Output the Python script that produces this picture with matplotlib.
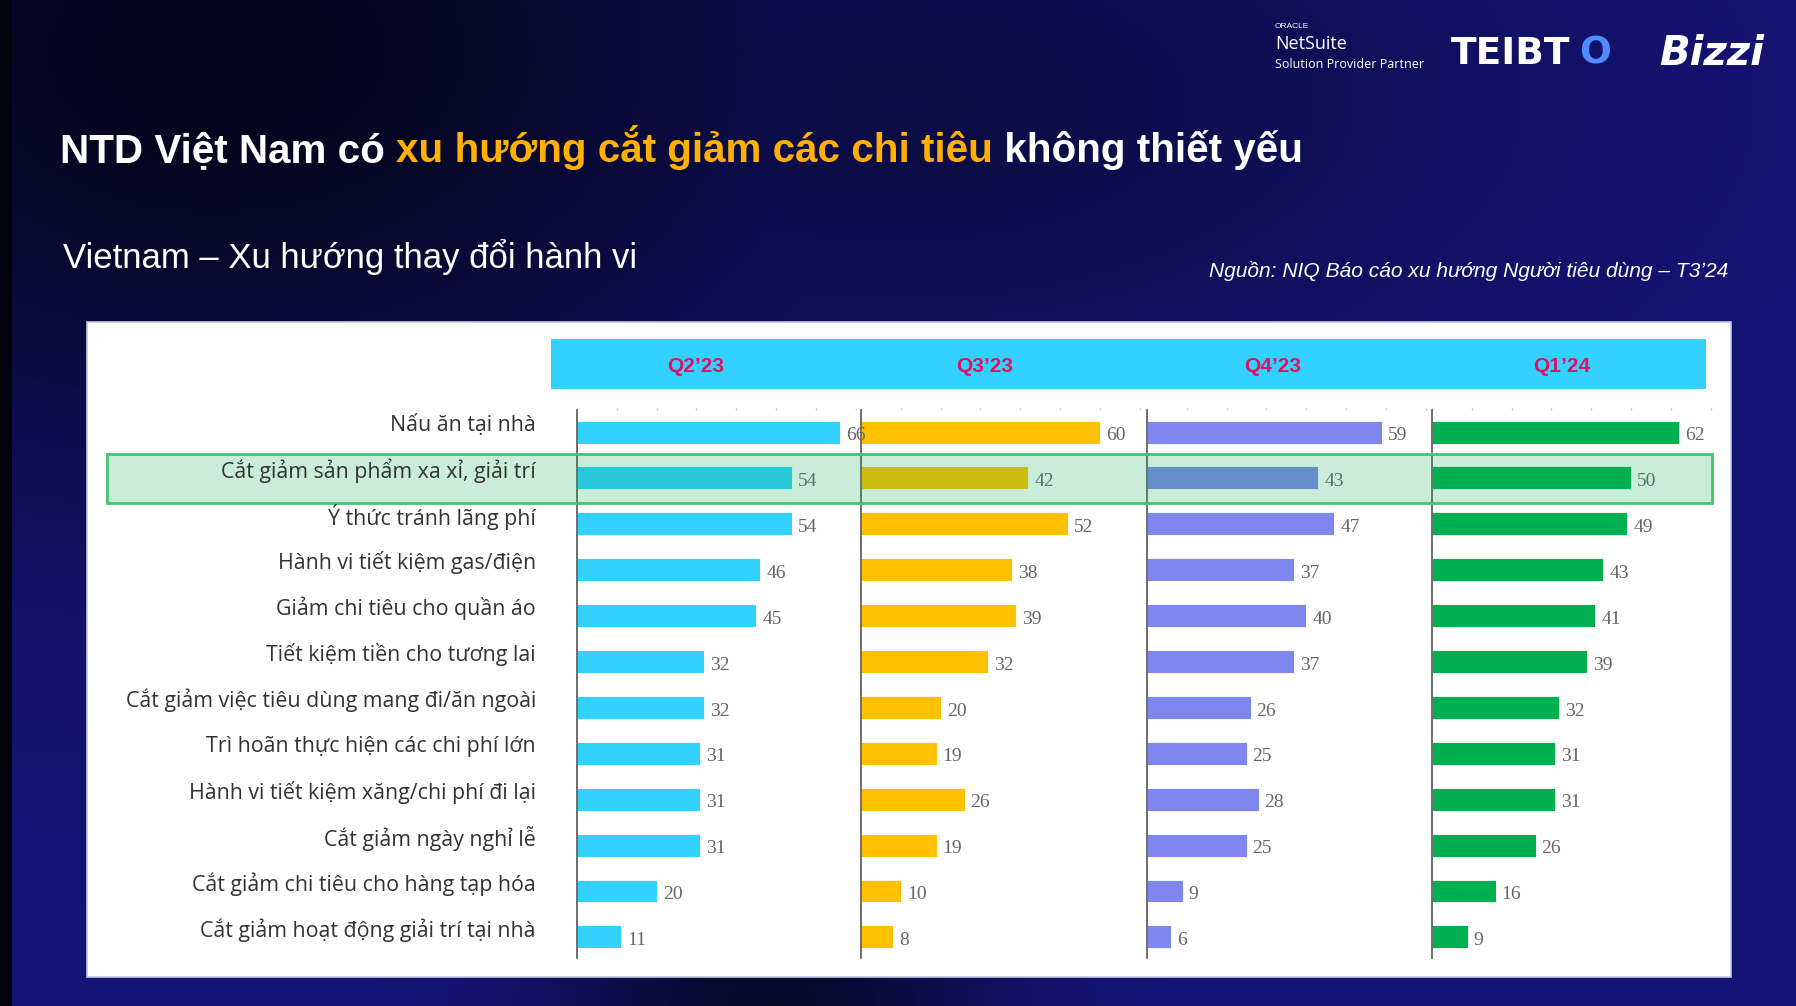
"""
plot.py - NIQ consumer behaviour trend slide (Vietnam), four quarter panels.
"""
import numpy as np
import matplotlib
matplotlib.use("Agg")
import matplotlib.pyplot as plt
from matplotlib.patches import Rectangle
from matplotlib.transforms import blended_transform_factory

# Data
behaviours = [
    "Nấu ăn tại nhà",
    "Cắt giảm sản phẩm xa xỉ, giải trí",
    "Ý thức tránh lãng phí",
    "Hành vi tiết kiệm gas/điện",
    "Giảm chi tiêu cho quần áo",
    "Tiết kiệm tiền cho tương lai",
    "Cắt giảm việc tiêu dùng mang đi/ăn ngoài",
    "Trì hoãn thực hiện các chi phí lớn",
    "Hành vi tiết kiệm xăng/chi phí đi lại",
    "Cắt giảm ngày nghỉ lễ",
    "Cắt giảm chi tiêu cho hàng tạp hóa",
    "Cắt giảm hoạt động giải trí tại nhà",
]
quarters = ["Q2’23", "Q3’23", "Q4’23", "Q1’24"]
q2_23 = [66, 54, 54, 46, 45, 32, 32, 31, 31, 31, 20, 11]
q3_23 = [60, 42, 52, 38, 39, 32, 20, 19, 26, 19, 10, 8]
q4_23 = [59, 43, 47, 37, 40, 37, 26, 25, 28, 25, 9, 6]
q1_24 = [62, 50, 49, 43, 41, 39, 32, 31, 31, 26, 16, 9]
highlight_row = 1

bar_colors = ["#33D1FF", "#FFC000", "#7F86EE", "#00B050"]

# Layout helpers (pixel coordinates, origin top-left)
W, H = 1796, 1006
fig = plt.figure(figsize=(W / 100, H / 100), dpi=100)


def px_box(x0, y0, x1, y1):
    return [x0 / W, 1 - y1 / H, (x1 - x0) / W, (y1 - y0) / H]


# Background: navy with darker patches (top-left, bottom-middle)
ax_bg = fig.add_axes([0, 0, 1, 1], zorder=-5)
gx, gy = np.meshgrid(np.linspace(0, 1, 450), np.linspace(0, 1, 250))
shade = np.maximum(
    np.exp(-(((gx - 0.12) / 0.38) ** 2 + ((gy - 0.05) / 0.45) ** 2)),
    0.85 * np.exp(-(((gx - 0.43) / 0.12) ** 2 + ((gy - 1.0) / 0.12) ** 2)),
)
shade = np.maximum(shade, 0.55 * np.exp(-(((gx - 0.5) / 0.35) ** 2 + ((gy - 0.1) / 0.3) ** 2)))
bright = np.array([0.08, 0.08, 0.47])
dark = np.array([0.02, 0.02, 0.11])
img = bright + (dark - bright) * np.clip(shade, 0, 1)[..., None]
img[:, :3] = [0.01, 0.01, 0.05]
ax_bg.imshow(img, aspect="auto", extent=[0, 1, 1, 0])
ax_bg.axis("off")

# White panel and header band
fig.patches.append(Rectangle((87 / W, 1 - 977 / H), (1731 - 87) / W, (977 - 322) / H,
                             transform=fig.transFigure, facecolor="white",
                             edgecolor="#c4c6e0", linewidth=1.2, zorder=-1))
band_x0, band_x1 = 551, 1706
fig.patches.append(Rectangle((band_x0 / W, 1 - 389 / H), (band_x1 - band_x0) / W, 50 / H,
                             transform=fig.transFigure, facecolor="#33D1FF",
                             edgecolor="none", zorder=-1))
band_step = (band_x1 - band_x0) / len(quarters)
for i, q in enumerate(quarters):
    fig.text((band_x0 + band_step * (i + 0.5)) / W, 1 - 367 / H, q,
             ha="center", va="center", color="#E0115F", fontsize=15,
             fontweight="bold", family="Liberation Sans")

# Panels (earlier panels on top so overflowing value labels stay visible)
axis_x = [577, 861, 1147, 1432]
panel_w = 284
series = [q2_23, q3_23, q4_23, q1_24]
n = len(behaviours)
y = np.arange(n)
axes = []
for k, (vals, col) in enumerate(zip(series, bar_colors)):
    ax = fig.add_axes(px_box(axis_x[k], 410, axis_x[k] + panel_w, 958),
                      zorder=1.4 - 0.1 * k)
    ax.patch.set_alpha(0)
    ax.barh(y, vals, height=0.5, color=col, edgecolor="white", linewidth=0.6)
    for yi, v in zip(y, vals):
        ax.text(v + 1.5, yi + 0.08, str(v), va="center", ha="left",
                fontsize=14, color="#666666", family="Liberation Serif",
                clip_on=False)
    ax.set_xlim(0, 71.3)
    ax.set_ylim(n - 0.54, -0.48)
    for s in ["top", "right", "bottom"]:
        ax.spines[s].set_visible(False)
    ax.spines["left"].set_color("#555555")
    ax.spines["left"].set_linewidth(1.2)
    ax.set_yticks([])
    ax.xaxis.tick_top()
    ax.set_xticks(np.arange(0, 71, 10))
    ax.tick_params(axis="x", length=1.5, width=1, color="#c8c8c8",
                   labeltop=False, pad=4)
    axes.append(ax)

# Row labels
lab_tr = blended_transform_factory(fig.transFigure, axes[0].transData)
for yi, name in zip(y, behaviours):
    fig.text(536 / W, yi - 0.15, name, transform=lab_tr, ha="right",
             va="center", fontsize=15.4, color="#333333", family="Open Sans")

# Highlight box over the focus row
fig.patches.append(Rectangle((107 / W, highlight_row - 0.53), (1712 - 107) / W, 1.07,
                             transform=lab_tr, facecolor="#07AE53", alpha=0.21,
                             edgecolor="none", zorder=2))
fig.patches.append(Rectangle((107 / W, highlight_row - 0.53), (1712 - 107) / W, 1.07,
                             transform=lab_tr, facecolor="none",
                             edgecolor="#45C46E", linewidth=2, zorder=2))

# Titles
title_y = 1 - 162 / H
t1 = fig.text(60 / W, title_y, "NTD Việt Nam có ", color="white",
              fontsize=29.1, fontweight="bold", family="Liberation Sans", va="baseline")
fig.canvas.draw()
r = fig.canvas.get_renderer()
bb = t1.get_window_extent(r)
t2 = fig.text(bb.x1 / W, title_y, "xu hướng cắt giảm các chi tiêu", color="#FFB000",
              fontsize=29.1, fontweight="bold", family="Liberation Sans", va="baseline")
bb = t2.get_window_extent(r)
fig.text(bb.x1 / W, title_y, " không thiết yếu", color="white",
         fontsize=29.1, fontweight="bold", family="Liberation Sans", va="baseline")

fig.text(63 / W, 1 - 268 / H, "Vietnam – Xu hướng thay đổi hành vi", color="white",
         fontsize=25, family="Liberation Sans", va="baseline")
fig.text(1728 / W, 1 - 277 / H, "Nguồn: NIQ Báo cáo xu hướng Người tiêu dùng – T3’24",
         color="white", fontsize=15.1, style="italic", family="Liberation Sans",
         ha="right", va="baseline")

# Partner logos (as text)
fig.text(1275 / W, 1 - 27 / H, "ORACLE", color="white", fontsize=6,
         family="Liberation Sans", va="center")
fig.text(1275 / W, 1 - 44 / H, "NetSuite", color="white", fontsize=13,
         family="Open Sans", va="center")
fig.text(1275 / W, 1 - 65 / H, "Solution Provider Partner", color="white", fontsize=9,
         family="Open Sans", va="center")
t3 = fig.text(1451 / W, 1 - 54 / H, "TEIBT", color="white", fontsize=27,
              fontweight="bold", family="DejaVu Sans", va="center")
bb = t3.get_window_extent(r)
fig.text(bb.x1 / W + 0.005, 1 - 54 / H, "O", color="#4F8BFF", fontsize=27,
         fontweight="bold", family="DejaVu Sans", va="center")
fig.text(1659 / W, 1 - 54 / H, "Bizzi", color="white", fontsize=29,
         fontweight="bold", style="italic", family="DejaVu Sans", va="center")

fig.savefig("out.png", dpi=100)
